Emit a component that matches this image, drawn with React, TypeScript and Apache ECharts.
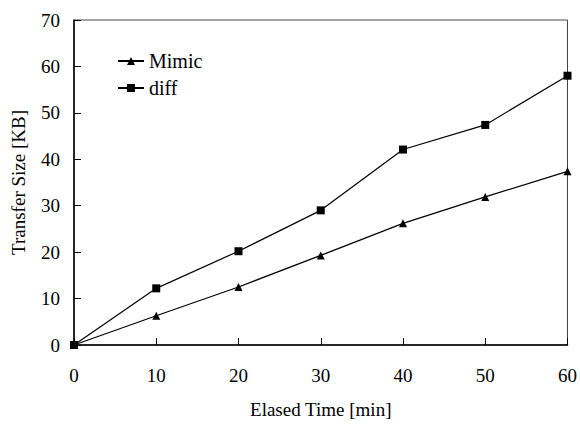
import React, { useEffect, useRef } from "react";
import * as echarts from "echarts";

const times = [0, 10, 20, 30, 40, 50, 60];
const mimic = [0, 6.3, 12.5, 19.3, 26.2, 31.9, 37.4];
const diff = [0, 12.2, 20.2, 29.0, 42.1, 47.4, 58.0];

const FONT = "Liberation Serif";

export default function App() {
  const ref = useRef<HTMLDivElement>(null);
  useEffect(() => {
    const chart = echarts.init(ref.current!, null, { renderer: "svg" });
    chart.setOption({
      animation: false,
      backgroundColor: "#fff",
      textStyle: { fontFamily: FONT, color: "#000" },
      grid: {
        left: 74,
        right: 12,
        top: 20,
        bottom: 74,
        show: true,
        borderColor: "#444",
        borderWidth: 1,
      },
      legend: {
        orient: "vertical",
        left: 112,
        top: 46,
        itemWidth: 26,
        itemHeight: 10,
        itemGap: 7,
        textStyle: { fontFamily: FONT, fontSize: 20, color: "#000" },
        data: ["Mimic", "diff"],
      },
      xAxis: {
        type: "value",
        min: 0,
        max: 60,
        interval: 10,
        name: "Elased Time [min]",
        nameLocation: "middle",
        nameGap: 55,
        nameTextStyle: { fontFamily: FONT, fontSize: 19, color: "#000" },
        axisLine: { onZero: false, lineStyle: { color: "#000", width: 1.5 } },
        axisTick: { inside: true, length: 7, lineStyle: { color: "#000" } },
        axisLabel: { fontFamily: FONT, fontSize: 19, color: "#000", margin: 21 },
        splitLine: { show: false },
      },
      yAxis: {
        type: "value",
        min: 0,
        max: 70,
        interval: 10,
        name: "Transfer Size [KB]",
        nameLocation: "middle",
        nameGap: 46,
        nameTextStyle: { fontFamily: FONT, fontSize: 19, color: "#000" },
        axisLine: { show: true, onZero: false, lineStyle: { color: "#000", width: 1.5 } },
        axisTick: { show: true, inside: true, length: 7, lineStyle: { color: "#000" } },
        axisLabel: { fontFamily: FONT, fontSize: 19, color: "#000", margin: 14 },
        splitLine: { show: false },
      },
      series: [
        {
          name: "Mimic",
          type: "line",
          data: times.map((t, i) => [t, mimic[i]]),
          symbol: "triangle",
          symbolSize: 8,
          lineStyle: { color: "#000", width: 1.2 },
          itemStyle: { color: "#000" },
        },
        {
          name: "diff",
          type: "line",
          data: times.map((t, i) => [t, diff[i]]),
          symbol: "rect",
          symbolSize: 8,
          lineStyle: { color: "#000", width: 1.2 },
          itemStyle: { color: "#000" },
        },
      ],
    });
    return () => chart.dispose();
  }, []);
  return <div ref={ref} style={{ width: 580, height: 424, position: "absolute", left: 0, top: 0 }} />;
}
